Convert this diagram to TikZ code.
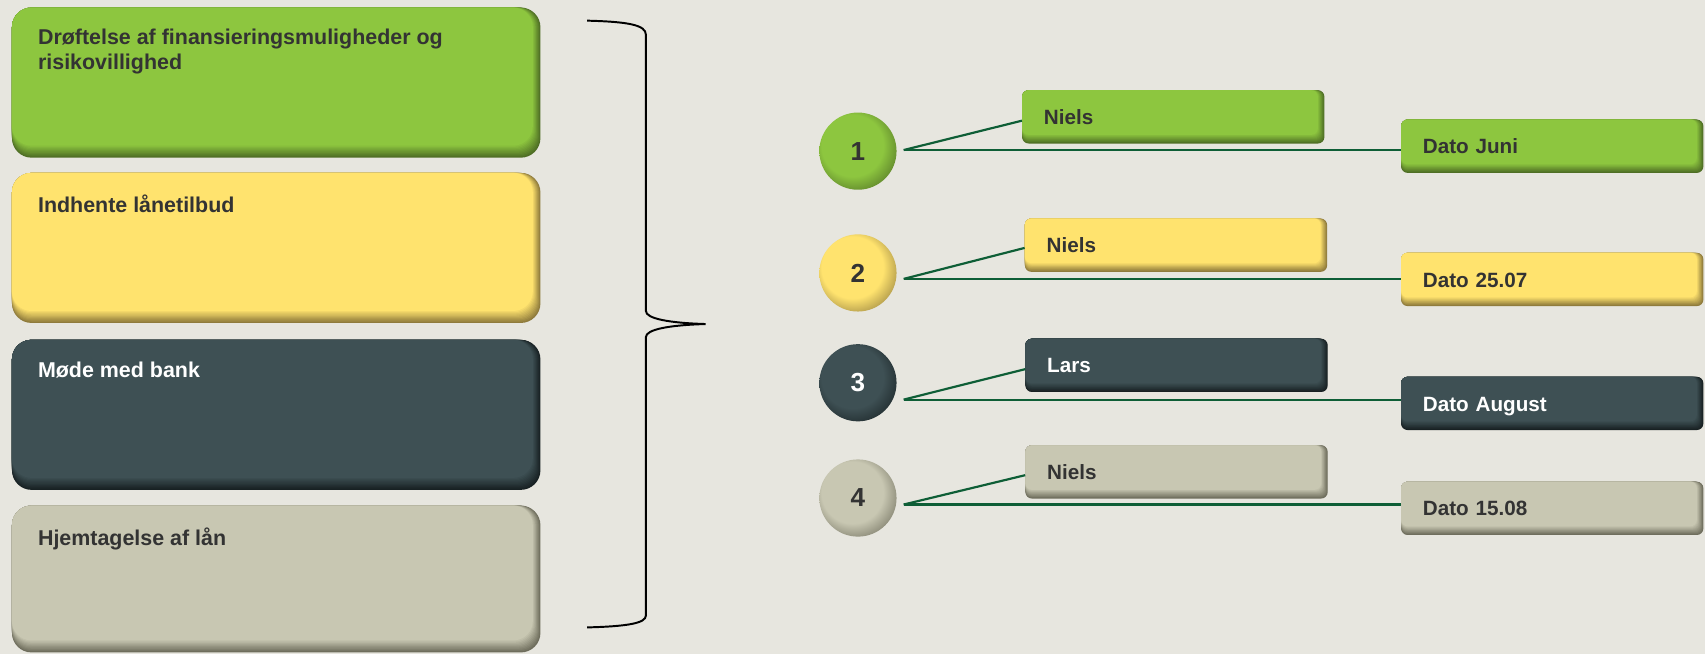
\documentclass[tikz,border=0pt]{standalone}
\usepackage{fontspec}
\setmainfont{Liberation Sans}
\definecolor{bg}{HTML}{E7E6DF}
\definecolor{gA}{HTML}{8DC63F}
\definecolor{gAd}{HTML}{4F6E25}
\definecolor{yA}{HTML}{FFE36E}
\definecolor{yAd}{HTML}{8F7B3C}
\definecolor{sA}{HTML}{3E5054}
\definecolor{sAd}{HTML}{182123}
\definecolor{bA}{HTML}{C8C7B2}
\definecolor{bAd}{HTML}{6E6D5C}
\definecolor{txt}{HTML}{333333}
\definecolor{conn}{HTML}{0E5E36}
\colorlet{ballmain}{gA}
\colorlet{balldark}{gAd}
\pgfdeclareradialshading[ballmain,balldark]{myball}{\pgfpoint{-6bp}{6bp}}{color(0bp)=(ballmain); color(20bp)=(ballmain); color(34bp)=(balldark); color(50bp)=(balldark)}
\tikzset{
  bevr/.store in=\bevr, bevx/.store in=\bevx, bevy/.store in=\bevy,
  bevr=6pt, bevx=4pt, bevy=6pt,
  bevel/.style 2 args={fill=#2, draw=none, path picture={
    \foreach \k [evaluate=\k as \p using int(100*\k/10)] in {1,...,10} {
      \fill[#1!\p!#2, rounded corners=\bevr] (path picture bounding box.north west) rectangle ([shift={(-\k/10*\bevx,\k/10*\bevy)}]path picture bounding box.south east);
    }
  }},
  lbox/.style={rectangle, rounded corners=18pt, bevr=18pt, bevx=7pt, bevy=11pt, minimum width=486pt, minimum height=138pt, inner sep=0pt},
  ltxt/.style={anchor=north west, inner sep=0pt, align=left, font=\fontsize{19.7}{23}\selectfont\bfseries, text=txt},
  rbox/.style={rectangle, rounded corners=6pt, bevr=6pt, bevx=6pt, bevy=8pt, minimum width=278pt, minimum height=49pt, inner xsep=20pt, inner ysep=0pt, text width=238pt, align=left, text height=14pt, text depth=0pt, font=\fontsize{19}{23}\selectfont\bfseries, text=txt},
  ball/.style 2 args={/utils/exec={\colorlet{ballmain}{#1}\colorlet{balldark}{#2}}, shade, shading=myball, draw=none},
  ballnode/.style={circle, minimum size=71pt, inner sep=0pt, font=\fontsize{24}{24}\selectfont\bfseries, text=txt},
  link/.style={draw=conn, line width=2pt},
  brace/.style={draw=black, line width=1.8pt}
}
\begin{document}
\begin{tikzpicture}[x=1pt,y=-1pt]
\useasboundingbox (0,0) rectangle (1568,601);
\fill[bg] (0,0) rectangle (1568,601);
% left boxes
\node[lbox, bevel={gA}{gAd}] (b1) at (254,76) {};
\node[lbox, bevel={yA}{yAd}] (b2) at (254,228) {};
\node[lbox, bevel={sA}{sAd}] (b3) at (254,381.5) {};
\node[lbox, bevel={bA}{bAd}, minimum height=135pt] (b4) at (254,532.5) {};
\node[ltxt] (t1) at ([shift={(24pt,-20pt)}]b1.north west) {Drøftelse af finansieringsmuligheder og\\risikovillighed};
\node[ltxt] (t2) at ([shift={(24pt,-20pt)}]b2.north west) {Indhente lånetilbud};
\node[ltxt, text=white] (t3) at ([shift={(24pt,-20pt)}]b3.north west) {Møde med bank};
\node[ltxt] (t4) at ([shift={(24pt,-20pt)}]b4.north west) {Hjemtagelse af lån};
% brace
\coordinate (tip) at (649,298);
\draw[brace] (540,19) .. controls (578,20) and (594,23) .. (594,32) -- (594,286)
  .. controls (594,293) and (615,297) .. (tip)
  .. controls (615,299) and (594,303) .. (594,310) -- (594,566)
  .. controls (594,573) and (578,576) .. (540,577);
% circles
\node[ballnode, ball={gA}{gAd}] (c1) at (789,139) {1};
\node[ballnode, ball={yA}{yAd}] (c2) at (789,251) {2};
\node[ballnode, ball={sA}{sAd}, text=white] (c3) at (789,352) {3};
\node[ballnode, ball={bA}{bAd}] (c4) at (789,458) {4};
% right boxes
\node[rbox, bevel={gA}{gAd}] (n1) at (1079,107.5) {Niels};
\node[rbox, bevel={gA}{gAd}] (d1) at (1427.5,134.5) {Dato Juni};
\node[rbox, bevel={yA}{yAd}] (n2) at (1081.5,225.5) {Niels};
\node[rbox, bevel={yA}{yAd}] (d2) at (1427.5,257) {Dato 25.07};
\node[rbox, bevel={sA}{sAd}, text=white] (n3) at (1082,336) {Lars};
\node[rbox, bevel={sA}{sAd}, text=white] (d3) at (1427.5,371) {Dato August};
\node[rbox, bevel={bA}{bAd}] (n4) at (1082,434) {Niels};
\node[rbox, bevel={bA}{bAd}] (d4) at (1427.5,467.5) {Dato 15.08};
% connectors
\coordinate (s1) at (831,138);
\coordinate (s2) at (831,256.5);
\coordinate (s3) at (831,367.5);
\coordinate (s4) at (831,464);
\draw[link] (s1) -- ([yshift=-3.5pt]n1.west);
\draw[link] (s1) -- (s1 -| d1.west);
\draw[link] (s2) -- ([yshift=-2.5pt]n2.west);
\draw[link] (s2) -- (s2 -| d2.west);
\draw[link] (s3) -- ([yshift=-3.5pt]n3.west);
\draw[link] (s3) -- (s3 -| d3.west);
\draw[link] (s4) -- ([yshift=-3pt]n4.west);
\draw[link] (s4) -- (s4 -| d4.west);
\end{tikzpicture}
\end{document}
